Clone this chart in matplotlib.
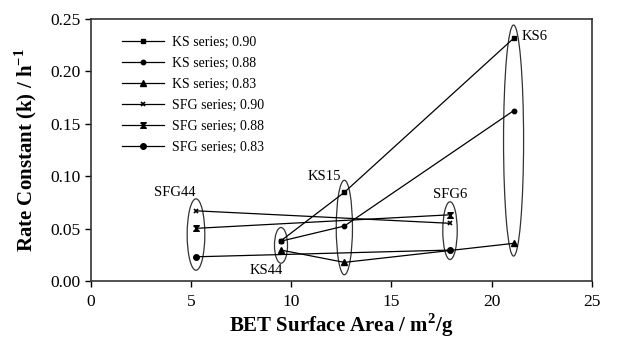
import matplotlib.pyplot as plt
from matplotlib.patches import Ellipse

plt.rcParams['font.family'] = ['Liberation Serif', 'DejaVu Serif']
plt.rcParams['mathtext.fontset'] = 'custom'
plt.rcParams['mathtext.rm'] = 'Liberation Serif'
plt.rcParams['mathtext.bf'] = 'Liberation Serif:bold'

# BET surface area of each sample
x_ks = [9.5, 12.66, 21.1]      # KS44, KS15, KS6
x_sfg = [5.26, 17.93]          # SFG44, SFG6

# rate constants
ks_090 = [0.0384, 0.0845, 0.2311]
ks_088 = [0.0380, 0.0524, 0.1622]
ks_083 = [0.0295, 0.0178, 0.0359]
sfg_090 = [0.0669, 0.0550]
sfg_088 = [0.0502, 0.0631]
sfg_083 = [0.0231, 0.0295]

# sample labels
sample_names = ['SFG44', 'KS44', 'KS15', 'SFG6', 'KS6']
label_x = [4.2, 8.78, 11.67, 17.93, 22.17]
label_y = [0.084, 0.0105, 0.0993, 0.0829, 0.2327]

bowtie = [(-1, 1), (1, 1), (-1, -1), (1, -1), (-1, 1)]

fig = plt.figure(figsize=(6.3, 3.37), dpi=100)
ax = fig.add_axes([0.1437, 0.166, 0.7956, 0.779])

lw = 0.9
ax.plot(x_ks, ks_090, color='k', lw=lw, marker='s', ms=3.5, label='KS series; 0.90')
ax.plot(x_ks, ks_088, color='k', lw=lw, marker='o', ms=3.2, label='KS series; 0.88')
ax.plot(x_ks, ks_083, color='k', lw=lw, marker='^', ms=3.8, label='KS series; 0.83')
ax.plot(x_sfg, sfg_090, color='k', lw=lw, marker='x', ms=3.5, mew=1.2, label='SFG series; 0.90')
ax.plot(x_sfg, sfg_088, color='k', lw=lw, marker=bowtie, ms=4, label='SFG series; 0.88')
ax.plot(x_sfg, sfg_083, color='k', lw=lw, marker='o', ms=4, label='SFG series; 0.83')

# ellipses around each sample group
ell_x = [5.26, 9.5, 12.66, 17.93, 21.1]
ell_y = [0.0443, 0.034, 0.051, 0.048, 0.1338]
ell_w = [0.88, 0.65, 0.81, 0.72, 1.0]
ell_h = [0.068, 0.034, 0.090, 0.055, 0.22]
for cx, cy, w, h in zip(ell_x, ell_y, ell_w, ell_h):
    ax.add_patch(Ellipse((cx, cy), w, h, fill=False, ec='#333333', lw=0.9))

for name, tx, ty in zip(sample_names, label_x, label_y):
    ax.text(tx, ty, name, ha='center', va='center', fontsize=10.5)

ax.set_xlim(0, 25)
ax.set_ylim(0, 0.25)
ax.set_xticks([0, 5, 10, 15, 20, 25])
ax.set_yticks([0, 0.05, 0.10, 0.15, 0.20, 0.25])
ax.set_yticklabels(['0.00', '0.05', '0.10', '0.15', '0.20', '0.25'])
ax.tick_params(direction='out', length=4, width=1, labelsize=12.5)
ax.tick_params(axis='x', pad=5)
ax.tick_params(axis='y', pad=3)
for s in ax.spines.values():
    s.set_linewidth(1.2)
    s.set_color('#333333')

ax.set_xlabel('BET Surface Area / m$^\\mathbf{2}$/g', fontsize=15, fontweight='bold', labelpad=1)
ax.set_ylabel('Rate Constant (k) / h$^\\mathbf{-1}$', fontsize=15, fontweight='bold', labelpad=8)

ax.legend(loc='upper left', bbox_to_anchor=(0.063, 0.935), frameon=False, fontsize=10,
          handlelength=3.0, handletextpad=0.6, labelspacing=0.58, borderpad=0, borderaxespad=0)

fig.savefig('out.png', dpi=100)
